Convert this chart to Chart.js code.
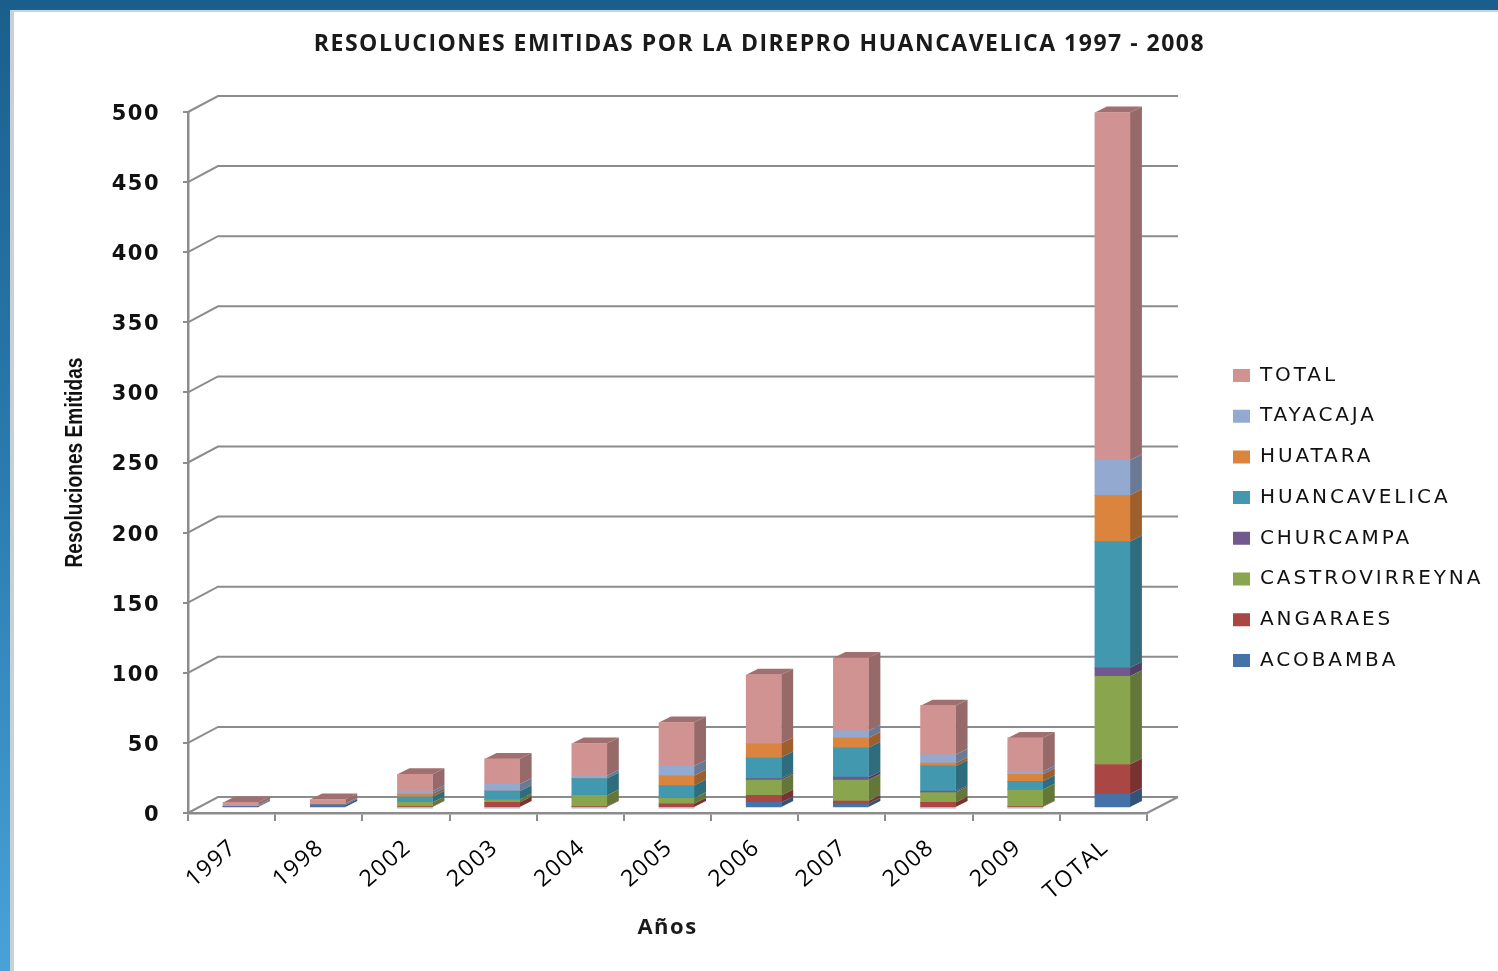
<!DOCTYPE html>
<html lang="es">
<head>
<meta charset="utf-8">
<title>Resoluciones emitidas</title>
<script src="https://cdn.jsdelivr.net/npm/chart.js@4/dist/chart.umd.js"></script>
<style>
	html, body { margin: 0; padding: 0; width: 1498px; height: 971px; overflow: hidden; }
	body { position: relative; background: linear-gradient(to bottom, #1a5f8c 0%, #2a7cb0 50%, #48a2d8 100%); }
	#panel { position: absolute; left: 10px; top: 10px; right: 0; bottom: 0; background: #fff; border-left: 4px solid #c8cfd6; border-top: 2px solid #c8d4de; }
	#chart { position: absolute; left: 21px; top: 0; }
</style>
</head>
<body>
<div id="panel"></div>
<canvas id="chart" width="1477" height="971"></canvas>
<script>
const categories = ['1997', '1998', '2002', '2003', '2004', '2005', '2006', '2007', '2008', '2009', 'TOTAL'];

const acobamba     = [1, 2, 0, 0, 0, 0, 4, 3, 0, 0, 10];
const angaraes     = [0, 0, 1, 4, 1, 3, 5, 2, 4, 1, 21];
const castrovirreyna = [0, 0, 3, 2, 8, 4, 11, 15, 7, 12, 63];
const churcampa    = [0, 0, 0, 0, 0, 0, 1, 2, 1, 0, 6];
const huancavelica = [0, 0, 4, 6, 12, 9, 15, 21, 18, 6, 90];
const huatara      = [0, 0, 2, 0, 0, 7, 10, 7, 2, 5, 33];
const tayacaja     = [1, 1, 2, 5, 2, 7, 0, 5, 6, 2, 25];
const totals       = [2, 3, 12, 18, 23, 31, 49, 52, 35, 24, 248];

const yMax = 500;
const yStep = 50;
const yTitle = 'Resoluciones Emitidas';

const seriesNames = ['ACOBAMBA', 'ANGARAES', 'CASTROVIRREYNA', 'CHURCAMPA', 'HUANCAVELICA', 'HUATARA', 'TAYACAJA', 'TOTAL'];
const seriesValues = [acobamba, angaraes, castrovirreyna, churcampa, huancavelica, huatara, tayacaja, totals];
const seriesColors = ['#4572A7', '#AA4643', '#89A54E', '#71588F', '#4198AF', '#DB843D', '#93A9CF', '#D19392'];

const gridColor = '#8c8c8c';
const wall = { x: 30, y: -16 };     // back wall offset from the front plane
const barShift = { x: 9, y: -5 };   // bars stand a little behind the front edge
const barDepth = { x: 12, y: -6 };
const legendGap = 20.7;

function shade(hex, f) {
	const n = parseInt(hex.slice(1), 16);
	const c = [(n >> 16) & 255, (n >> 8) & 255, n & 255].map((v) => Math.round(v * f));
	return `rgb(${c[0]},${c[1]},${c[2]})`;
}

function poly(ctx, pts, fill) {
	ctx.beginPath();
	pts.forEach((p, i) => (i ? ctx.lineTo(p[0], p[1]) : ctx.moveTo(p[0], p[1])));
	ctx.closePath();
	ctx.fillStyle = fill;
	ctx.fill();
}

// fake Excel 3D look: back wall grid, floor, bar sides
const box3d = {
	id: 'box3d',
	afterLayout(chart) {
		const legend = chart.legend;
		legend.left = 1212 - legendGap;
		legend.right = 1477;
		legend.top = 344.8;
		legend.bottom = 720;
		legend.adjustHitBoxes();
		// legend text in the reference is spaced wider than the rest
		if (!legend.__spaced) {
			const drawLegend = legend.draw;
			legend.draw = function (area) {
				chart.ctx.save();
				chart.ctx.letterSpacing = '2.9px';
				drawLegend.call(this, area);
				chart.ctx.restore();
			};
			legend.__spaced = true;
		}
		// title is centred on the whole picture, not on the padded area
		chart.titleBlock.left = 0;
		chart.titleBlock.right = 1477;
	},
	beforeDraw(chart) {
		chart.ctx.letterSpacing = '1.5px';
	},
	beforeDatasetsDraw(chart) {
		const { ctx, chartArea, scales } = chart;
		ctx.save();
		ctx.strokeStyle = gridColor;
		ctx.lineWidth = 2;
		scales.y.ticks.forEach((t) => {
			const py = scales.y.getPixelForValue(t.value);
			ctx.beginPath();
			ctx.moveTo(chartArea.left, py);
			ctx.lineTo(chartArea.left + wall.x, py + wall.y);
			ctx.lineTo(chartArea.right + wall.x + 1, py + wall.y);
			ctx.stroke();
		});
		const py0 = scales.y.getPixelForValue(0);
		ctx.beginPath();
		ctx.moveTo(chartArea.right, py0);
		ctx.lineTo(chartArea.right + wall.x + 1, py0 + wall.y);
		ctx.stroke();
		ctx.restore();
	},
	beforeDatasetDraw(chart, args) {
		const { ctx } = chart;
		const color = seriesColors[args.index];
		ctx.save();
		ctx.translate(barShift.x, barShift.y);
		args.meta.data.forEach((bar) => {
			const p = bar.getProps(['x', 'y', 'base', 'width']);
			const r = p.x + p.width / 2;
			const l = p.x - p.width / 2;
			if (p.base - p.y > 0) {
				poly(ctx, [[r, p.base], [r + barDepth.x, p.base + barDepth.y], [r + barDepth.x, p.y + barDepth.y], [r, p.y]], shade(color, 0.72));
			}
			if (args.index === seriesValues.length - 1) {
				poly(ctx, [[l, p.y], [l + barDepth.x, p.y + barDepth.y], [r + barDepth.x, p.y + barDepth.y], [r, p.y]], shade(color, 0.76));
			}
		});
	},
	afterDatasetDraw(chart) {
		chart.ctx.restore();
	},
	afterDraw(chart) {
		// narrow bold y title: squeezed horizontally, no condensed font installed
		const { ctx, chartArea } = chart;
		ctx.save();
		ctx.letterSpacing = '0px';
		ctx.font = 'bold 23px "Liberation Sans"';
		ctx.fillStyle = '#111';
		ctx.textAlign = 'center';
		ctx.textBaseline = 'middle';
		ctx.translate(55, (chartArea.top + chartArea.bottom) / 2);
		ctx.rotate(-Math.PI / 2);
		ctx.scale(210 / ctx.measureText(yTitle).width, 1);
		ctx.fillText(yTitle, 0, 0);
		ctx.restore();
		ctx.letterSpacing = '0px';
	},
};

new Chart(document.getElementById('chart'), {
	type: 'bar',
	data: {
		labels: categories,
		datasets: seriesNames.map((name, i) => ({
			label: name,
			data: seriesValues[i],
			backgroundColor: seriesColors[i],
			borderWidth: 0,
			barThickness: 35,
			clip: false,
		})),
	},
	plugins: [box3d],
	options: {
		responsive: false,
		animation: false,
		layout: { padding: { left: 0, right: 351, top: 0, bottom: 0 } },
		plugins: {
			tooltip: { enabled: false },
			title: {
				display: true,
				text: 'RESOLUCIONES EMITIDAS POR LA DIREPRO HUANCAVELICA 1997 - 2008',
				color: '#1a1a1a',
				font: { family: '"Open Sans"', size: 23, weight: 'bold' },
				padding: { top: 30.7, bottom: 53.7 },
			},
			legend: {
				position: 'chartArea',
				reverse: true,
				align: 'start',
				labels: {
					color: '#111',
					font: { family: '"DejaVu Sans"', size: 20 },
					boxWidth: 17,
					boxHeight: 13,
					padding: legendGap,
				},
			},
		},
		scales: {
			x: {
				stacked: true,
				afterFit: (scale) => { scale.height = 158; },
				grid: { offset: true, drawOnChartArea: false, color: gridColor, lineWidth: 2, tickLength: 8 },
				border: { color: gridColor, width: 2.5 },
				ticks: {
					color: '#000',
					autoSkip: false,
					minRotation: 41,
					maxRotation: 41,
					padding: 13,
					labelOffset: 2,
					font: { family: '"Open Sans"', size: 23 },
				},
				title: {
					display: true,
					text: 'Años',
					color: '#1a1a1a',
					font: { family: '"Open Sans"', size: 22, weight: 'bold' },
					padding: { top: 0, bottom: 30 },
				},
			},
			y: {
				stacked: true,
				min: 0,
				max: yMax,
				afterFit: (scale) => { scale.width = 167; },
				grid: { drawOnChartArea: false, color: gridColor, lineWidth: 2, tickLength: 5 },
				border: { color: gridColor, width: 2.5 },
				ticks: {
					stepSize: yStep,
					color: '#111',
					padding: 23,
					labelOffset: 2.5,
					font: { family: '"DejaVu Sans"', size: 21, weight: 'bold' },
				},
			},
		},
	},
});
</script>
</body>
</html>
